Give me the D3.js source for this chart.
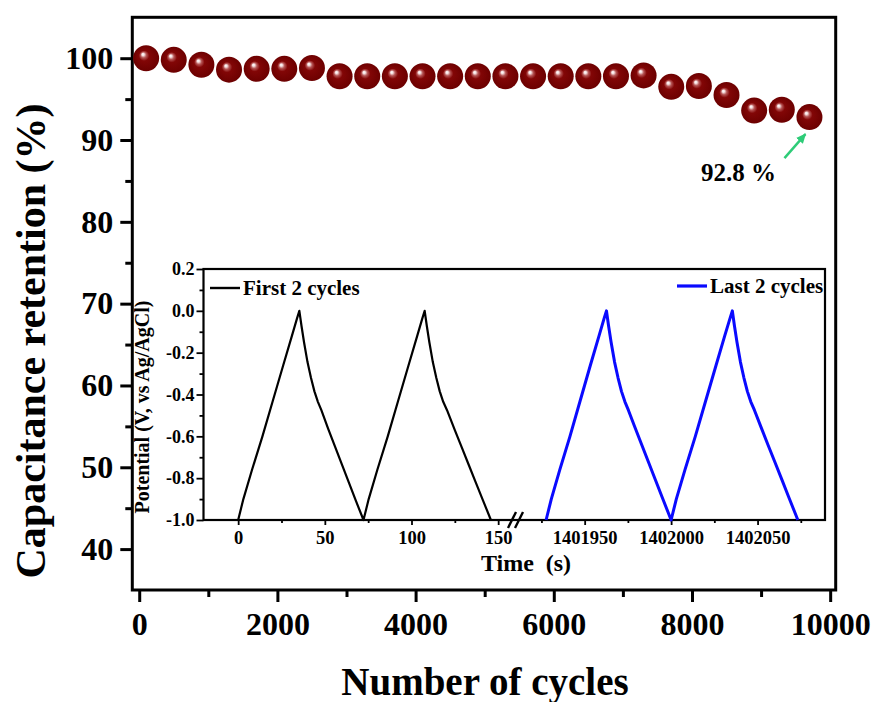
<!DOCTYPE html>
<html>
<head>
<meta charset="utf-8">
<script src="https://cdn.jsdelivr.net/npm/d3@7"></script>
<style>
  html, body { margin: 0; padding: 0; background: #fff; }
  svg { display: block; }
  text { font-family: "Liberation Serif", "Times New Roman", serif; font-weight: bold; fill: #000; }
</style>
</head>
<body>
<svg id="chart" width="874" height="702"></svg>
<script>
// ---- Cycling stability: capacitance retention vs number of cycles ----
const cycles = [100, 500, 900, 1300, 1700, 2100, 2500, 2900, 3300, 3700, 4100, 4500, 4900,
                5300, 5700, 6100, 6500, 6900, 7300, 7700, 8100, 8500, 8900, 9300, 9700];
const retention = [100.0, 99.8, 99.2, 98.6, 98.7, 98.7, 98.8, 97.8, 97.8, 97.8, 97.8, 97.8, 97.8,
                   97.8, 97.8, 97.8, 97.8, 97.8, 97.9, 96.5, 96.6, 95.5, 93.6, 93.7, 92.8];
const xTicks = [0, 2000, 4000, 6000, 8000, 10000];
const xMinorTicks = [1000, 3000, 5000, 7000, 9000];
const yTicks = [40, 50, 60, 70, 80, 90, 100];
const yMinorTicks = [45, 55, 65, 75, 85, 95];

// ---- Inset: galvanostatic charge/discharge curves ----
const firstTime = [0, 3, 8, 14, 20, 26, 31, 34, 35.3,
                   36.5, 38, 40, 42, 44, 46, 48, 52, 56, 60, 64, 68, 72.3,
                   75.3, 80.3, 86.3, 92.3, 98.3, 103.3, 106.3, 107.6,
                   108.8, 110.3, 112.3, 114.3, 116.3, 118.3, 120.5, 125, 129, 133, 137, 141, 145.8];
const firstPotential = [-1.0, -0.90, -0.76, -0.60, -0.43, -0.26, -0.12, -0.035, 0.0,
                        -0.07, -0.15, -0.245, -0.32, -0.385, -0.435, -0.475, -0.565, -0.652, -0.738, -0.824, -0.91, -1.0,
                        -0.90, -0.76, -0.60, -0.43, -0.26, -0.12, -0.035, 0.0,
                        -0.07, -0.15, -0.245, -0.32, -0.385, -0.435, -0.475, -0.57, -0.653, -0.736, -0.819, -0.901, -1.0];
const lastTime = [1401927.7, 1401930.7, 1401935.6, 1401941.5, 1401947.4, 1401953.3, 1401958.3, 1401961.3, 1401962.6,
                  1401963.8, 1401965.3, 1401967.3, 1401969.3, 1401971.3, 1401973.3, 1401975.3, 1401979, 1401983, 1401987, 1401991, 1401995, 1402000,
                  1402003, 1402008, 1402014, 1402020, 1402026, 1402031, 1402034.1, 1402035.4,
                  1402036.6, 1402038.1, 1402040.1, 1402042.1, 1402044.1, 1402046.1, 1402048.2, 1402052, 1402056, 1402060, 1402064, 1402068, 1402073.3];
const lastPotential = [-1.0, -0.90, -0.76, -0.60, -0.43, -0.26, -0.12, -0.035, 0.0,
                       -0.07, -0.15, -0.245, -0.32, -0.385, -0.435, -0.475, -0.555, -0.64, -0.725, -0.81, -0.895, -1.0,
                       -0.90, -0.76, -0.60, -0.43, -0.26, -0.12, -0.035, 0.0,
                       -0.07, -0.15, -0.245, -0.32, -0.385, -0.435, -0.475, -0.556, -0.64, -0.723, -0.806, -0.89, -1.0];
const insetYTicks = [0.2, 0.0, -0.2, -0.4, -0.6, -0.8, -1.0];
const insetYMinorTicks = [0.1, -0.1, -0.3, -0.5, -0.7, -0.9];
const insetLeftTicks = [0, 50, 100, 150];
const insetLeftMinorTicks = [25, 75, 125];
const insetRightTicks = [1401950, 1402000, 1402050];
const insetRightMinorTicks = [1401925, 1401975, 1402025, 1402075];
const seriesNames = ["First 2 cycles", "Last 2 cycles"];
const seriesColors = ["#000000", "#0a0aff"];

const svg = d3.select("#chart");

// ---------- main plot ----------
const plot = { left: 132.3, right: 835.7, top: 17.3, bottom: 590 };
const x = d3.scaleLinear().domain([-100, 10080]).range([plot.left, plot.right]);
const y = d3.scaleLinear().domain([35, 105]).range([plot.bottom, plot.top]);

const defs = svg.append("defs");
const grad = defs.append("radialGradient")
  .attr("id", "ball").attr("cx", "50%").attr("cy", "50%").attr("r", "50%")
  .attr("fx", "37%").attr("fy", "34%");
[["0%", "#ffffff"], ["9%", "#f6e4e4"], ["22%", "#b65656"], ["40%", "#820606"], ["100%", "#6c0000"]]
  .forEach(([o, c]) => grad.append("stop").attr("offset", o).attr("stop-color", c));

defs.append("marker")
  .attr("id", "arrowHead").attr("viewBox", "0 0 10 10")
  .attr("refX", 9).attr("refY", 5)
  .attr("markerWidth", 10).attr("markerHeight", 10)
  .attr("markerUnits", "userSpaceOnUse").attr("orient", "auto")
  .append("path").attr("d", "M0,0.5 L10,5 L0,9.5 Z").attr("fill", "#2ecc78");

function styleAxis(g, width) {
  g.select(".domain").remove();
  g.selectAll(".tick line").attr("stroke", "#000").attr("stroke-width", width);
}

// y axis
svg.append("g").attr("transform", `translate(${plot.left},0)`)
  .call(d3.axisLeft(y).tickValues(yMinorTicks).tickSize(7).tickFormat(""))
  .call(g => styleAxis(g, 3));
svg.append("g").attr("transform", `translate(${plot.left},0)`)
  .call(d3.axisLeft(y).tickValues(yTicks).tickSize(12).tickPadding(7).tickFormat(d3.format("d")))
  .call(g => styleAxis(g, 3))
  .call(g => g.selectAll("text").attr("font-size", 32).attr("font-family", null));

// x axis
svg.append("g").attr("transform", `translate(0,${plot.bottom})`)
  .call(d3.axisBottom(x).tickValues(xMinorTicks).tickSize(7).tickFormat(""))
  .call(g => styleAxis(g, 3));
svg.append("g").attr("transform", `translate(0,${plot.bottom})`)
  .call(d3.axisBottom(x).tickValues(xTicks).tickSize(12).tickPadding(10).tickFormat(d3.format("d")))
  .call(g => styleAxis(g, 3))
  .call(g => g.selectAll("text").attr("font-size", 32).attr("font-family", null));

// frame
svg.append("rect")
  .attr("x", plot.left).attr("y", plot.top)
  .attr("width", plot.right - plot.left).attr("height", plot.bottom - plot.top)
  .attr("fill", "none").attr("stroke", "#000").attr("stroke-width", 3);

// axis titles
svg.append("text")
  .attr("transform", `translate(45,341) rotate(-90)`)
  .attr("text-anchor", "middle").attr("font-size", 42)
  .text("Capacitance retention (%)");
svg.append("text")
  .attr("x", (plot.left + plot.right) / 2 + 1).attr("y", 695)
  .attr("text-anchor", "middle").attr("font-size", 39)
  .text("Number of cycles");

// ---------- inset ----------
const inset = { left: 203.5, right: 825, top: 269, bottom: 520, gap: 515.5 };
const xL = d3.scaleLinear().domain([-20, 160]).range([inset.left, inset.gap]);
const xR = d3.scaleLinear().domain([1401910, 1402089]).range([inset.gap, inset.right]);
const yIn = d3.scaleLinear().domain([-1.0, 0.2]).range([inset.bottom, inset.top]);

svg.append("rect")
  .attr("x", inset.left).attr("y", inset.top)
  .attr("width", inset.right - inset.left).attr("height", inset.bottom - inset.top)
  .attr("fill", "#fff");

// inset y axis
svg.append("g").attr("transform", `translate(${inset.left},0)`)
  .call(d3.axisLeft(yIn).tickValues(insetYMinorTicks).tickSize(4).tickFormat(""))
  .call(g => styleAxis(g, 1.8));
svg.append("g").attr("transform", `translate(${inset.left},0)`)
  .call(d3.axisLeft(yIn).tickValues(insetYTicks).tickSize(7).tickPadding(2).tickFormat(d => d.toFixed(1)))
  .call(g => styleAxis(g, 1.8))
  .call(g => g.selectAll("text").attr("font-size", 18).attr("font-family", null));

// inset x axis, two segments around the break
[[xL, insetLeftTicks, insetLeftMinorTicks], [xR, insetRightTicks, insetRightMinorTicks]]
  .forEach(([sc, major, minor]) => {
    svg.append("g").attr("transform", `translate(0,${inset.bottom})`)
      .call(d3.axisBottom(sc).tickValues(minor).tickSize(3).tickFormat(""))
      .call(g => styleAxis(g, 1.8));
    svg.append("g").attr("transform", `translate(0,${inset.bottom})`)
      .call(d3.axisBottom(sc).tickValues(major).tickSize(5).tickPadding(6).tickFormat(d3.format("d")))
      .call(g => styleAxis(g, 1.8))
      .call(g => g.selectAll("text").attr("font-size", 18.5).attr("font-family", null));
  });

svg.append("rect")
  .attr("x", inset.left).attr("y", inset.top)
  .attr("width", inset.right - inset.left).attr("height", inset.bottom - inset.top)
  .attr("fill", "none").attr("stroke", "#000").attr("stroke-width", 2.2);

// axis break marks
[-3.5, 3.5].forEach(dx => {
  svg.append("line")
    .attr("x1", inset.gap + dx - 4).attr("y1", inset.bottom + 8)
    .attr("x2", inset.gap + dx + 4).attr("y2", inset.bottom - 8)
    .attr("stroke", "#000").attr("stroke-width", 2.4);
});

// charge/discharge curves
const lineL = d3.line().x(d => xL(d[0])).y(d => yIn(d[1]));
const lineR = d3.line().x(d => xR(d[0])).y(d => yIn(d[1]));
svg.append("path")
  .datum(d3.zip(firstTime, firstPotential))
  .attr("d", lineL).attr("fill", "none")
  .attr("stroke", seriesColors[0]).attr("stroke-width", 2.2).attr("stroke-linejoin", "round");
svg.append("path")
  .datum(d3.zip(lastTime, lastPotential))
  .attr("d", lineR).attr("fill", "none")
  .attr("stroke", seriesColors[1]).attr("stroke-width", 3).attr("stroke-linejoin", "round");

// legend entries
const legendEntries = [
  { name: seriesNames[0], color: seriesColors[0], width: 2.4, x: 210, y: 288 },
  { name: seriesNames[1], color: seriesColors[1], width: 3.2, x: 677, y: 286 }
];
legendEntries.forEach(e => {
  svg.append("line").attr("x1", e.x).attr("x2", e.x + 30).attr("y1", e.y).attr("y2", e.y)
    .attr("stroke", e.color).attr("stroke-width", e.width);
  svg.append("text").attr("x", e.x + 33).attr("y", e.y + 6.5).attr("font-size", 21).text(e.name);
});

// inset axis titles
svg.append("text")
  .attr("transform", `translate(149,407) rotate(-90)`)
  .attr("text-anchor", "middle").attr("font-size", 20)
  .text("Potential (V, vs Ag/AgCl)");
svg.append("text")
  .attr("x", 526).attr("y", 571)
  .attr("text-anchor", "middle").attr("font-size", 24)
  .attr("xml:space", "preserve")
  .text("Time  (s)");

// ---------- retention points ----------
svg.append("g").selectAll("circle")
  .data(d3.zip(cycles, retention))
  .join("circle")
  .attr("cx", d => x(d[0])).attr("cy", d => y(d[1]))
  .attr("r", 13).attr("fill", "url(#ball)");

// final-value annotation
const lastIdx = cycles.length - 1;
const px = x(cycles[lastIdx]), py = y(retention[lastIdx]);
svg.append("line")
  .attr("x1", px - 25).attr("y1", py + 41)
  .attr("x2", px - 4).attr("y2", py + 17)
  .attr("stroke", "#2ecc78").attr("stroke-width", 2.5)
  .attr("marker-end", "url(#arrowHead)");
svg.append("text")
  .attr("x", px - 71).attr("y", py + 64)
  .attr("text-anchor", "middle").attr("font-size", 25)
  .text(retention[lastIdx].toFixed(1) + " %");
</script>
</body>
</html>
